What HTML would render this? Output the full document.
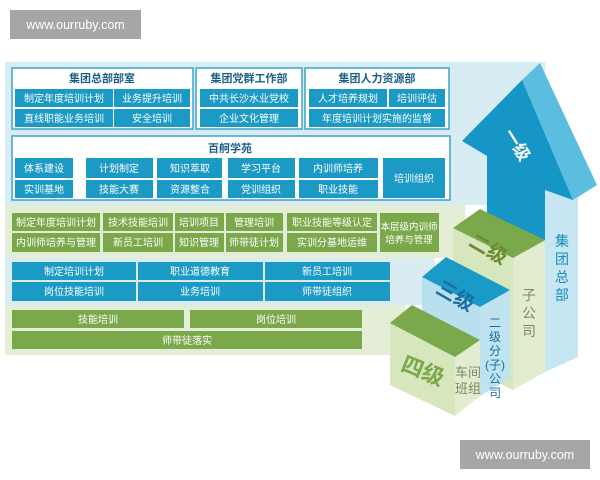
<!DOCTYPE html>
<html><head><meta charset="utf-8"><style>
html,body{margin:0;padding:0;background:#fff;}
svg{display:block;font-family:"Liberation Sans","Noto Sans CJK SC",sans-serif;}
</style></head><body>
<svg width="600" height="480" viewBox="0 0 600 480" xmlns="http://www.w3.org/2000/svg">
<rect width="600" height="480" fill="#fff"/>
<rect x="10" y="10" width="131" height="29" fill="#a6a6a6"/>
<text x="75.5" y="29" font-size="12.5" fill="#fff" text-anchor="middle">www.ourruby.com</text>
<rect x="460" y="440" width="130" height="29" fill="#a6a6a6"/>
<text x="525" y="459" font-size="12.5" fill="#fff" text-anchor="middle">www.ourruby.com</text>

<rect x="5" y="62" width="540" height="143" fill="#d8edf3"/>
<rect x="5" y="205" width="460" height="53" fill="#e4edd5"/>
<rect x="5" y="258" width="430" height="47" fill="#d8ecf2"/>
<rect x="5" y="305" width="400" height="50" fill="#e4edd5"/>

<g font-size="10" fill="#fff" text-anchor="middle">
<rect x="12" y="68" width="181" height="61" fill="#fff" stroke="#3aa3c9" stroke-width="1.5"/>
<text x="102" y="82" font-size="11" font-weight="bold" fill="#1b5f89">集团总部部室</text>
<rect x="15" y="89" width="98" height="18" fill="#1b9ac6"/><text x="64" y="102">制定年度培训计划</text>
<rect x="114" y="89" width="76" height="18" fill="#1b9ac6"/><text x="152" y="102">业务提升培训</text>
<rect x="15" y="109" width="98" height="18" fill="#1b9ac6"/><text x="64" y="122">直线职能业务培训</text>
<rect x="114" y="109" width="76" height="18" fill="#1b9ac6"/><text x="152" y="122">安全培训</text>
<rect x="196" y="68" width="106" height="61" fill="#fff" stroke="#3aa3c9" stroke-width="1.5"/>
<text x="249" y="82" font-size="11" font-weight="bold" fill="#1b5f89">集团党群工作部</text>
<rect x="200" y="89" width="98" height="18" fill="#1b9ac6"/><text x="249" y="102">中共长沙水业党校</text>
<rect x="200" y="109" width="98" height="18" fill="#1b9ac6"/><text x="249" y="122">企业文化管理</text>
<rect x="305" y="68" width="144" height="61" fill="#fff" stroke="#3aa3c9" stroke-width="1.5"/>
<text x="377" y="82" font-size="11" font-weight="bold" fill="#1b5f89">集团人力资源部</text>
<rect x="309" y="89" width="78" height="18" fill="#1b9ac6"/><text x="348" y="102">人才培养规划</text>
<rect x="389" y="89" width="56" height="18" fill="#1b9ac6"/><text x="417" y="102">培训评估</text>
<rect x="309" y="109" width="136" height="18" fill="#1b9ac6"/><text x="377" y="122">年度培训计划实施的监督</text>
<rect x="12" y="136" width="438" height="64" fill="#fff" stroke="#3aa3c9" stroke-width="1.5"/>
<text x="230" y="152" font-size="11" font-weight="bold" fill="#1b5f89">百舸学苑</text>
<rect x="15" y="158" width="58" height="20" fill="#1b9ac6"/><text x="44" y="172">体系建设</text>
<rect x="15" y="180" width="58" height="18" fill="#1b9ac6"/><text x="44" y="193">实训基地</text>
<rect x="86" y="158" width="67" height="20" fill="#1b9ac6"/><text x="119" y="172">计划制定</text>
<rect x="86" y="180" width="67" height="18" fill="#1b9ac6"/><text x="119" y="193">技能大赛</text>
<rect x="157" y="158" width="65" height="20" fill="#1b9ac6"/><text x="190" y="172">知识萃取</text>
<rect x="157" y="180" width="65" height="18" fill="#1b9ac6"/><text x="190" y="193">资源整合</text>
<rect x="228" y="158" width="67" height="20" fill="#1b9ac6"/><text x="261" y="172">学习平台</text>
<rect x="228" y="180" width="67" height="18" fill="#1b9ac6"/><text x="261" y="193">党训组织</text>
<rect x="299" y="158" width="79" height="20" fill="#1b9ac6"/><text x="338" y="172">内训师培养</text>
<rect x="299" y="180" width="79" height="18" fill="#1b9ac6"/><text x="338" y="193">职业技能</text>
<rect x="383" y="158" width="62" height="40" fill="#1b9ac6"/><text x="414" y="182">培训组织</text>

<g fill="#7aa84a">
<rect x="12" y="213" width="88" height="18"/><rect x="103" y="213" width="70" height="18"/><rect x="175" y="213" width="49" height="18"/><rect x="226" y="213" width="57" height="18"/><rect x="287" y="213" width="90" height="18"/>
<rect x="12" y="233" width="88" height="19"/><rect x="103" y="233" width="70" height="19"/><rect x="175" y="233" width="49" height="19"/><rect x="226" y="233" width="57" height="19"/><rect x="287" y="233" width="90" height="19"/>
<rect x="380" y="213" width="59" height="39"/>
</g>
<text x="56" y="226">制定年度培训计划</text><text x="138" y="226">技术技能培训</text><text x="199" y="226">培训项目</text><text x="254" y="226">管理培训</text><text x="332" y="226">职业技能等级认定</text>
<text x="56" y="246">内训师培养与管理</text><text x="138" y="246">新员工培训</text><text x="199" y="246">知识管理</text><text x="254" y="246">师带徒计划</text><text x="332" y="246">实训分基地运维</text>
<text x="409" y="230" font-size="9.5">本层级内训师</text><text x="409" y="243" font-size="9.5">培养与管理</text>

<g fill="#1b9ac6">
<rect x="12" y="262" width="124" height="18"/><rect x="138" y="262" width="125" height="18"/><rect x="265" y="262" width="125" height="18"/>
<rect x="12" y="282" width="124" height="19"/><rect x="138" y="282" width="125" height="19"/><rect x="265" y="282" width="125" height="19"/>
</g>
<text x="74" y="275">制定培训计划</text><text x="200" y="275">职业道德教育</text><text x="327" y="275">新员工培训</text>
<text x="74" y="295">岗位技能培训</text><text x="200" y="295">业务培训</text><text x="327" y="295">师带徒组织</text>

<g fill="#7aa84a">
<rect x="12" y="310" width="172" height="18"/><rect x="190" y="310" width="172" height="18"/>
<rect x="12" y="331" width="350" height="18"/>
</g>
<text x="98" y="323">技能培训</text><text x="276" y="323">岗位培训</text><text x="187" y="344">师带徒落实</text>
</g>

<!-- arrow -->
<polygon points="545,190 578,190 578,357 545,372" fill="#c6e6f1"/>
<polygon points="522,80 540,63 597,185 573,200" fill="#5bbde0"/>
<polygon points="462,141 522,80 573,200 545,190 545,250 487,250 487,156" fill="#1596c6"/>
<text font-size="17" font-weight="bold" fill="#fff" text-anchor="middle" transform="translate(512,148) rotate(58)">一级</text>
<g font-size="14" fill="#1a8ac0" text-anchor="middle">
<text x="562" y="246">集</text><text x="562" y="264">团</text><text x="562" y="282">总</text><text x="562" y="300">部</text>
</g>

<!-- level 2 -->
<polygon points="513,258 545,240 545,372 513,390" fill="#e2eccf"/>
<polygon points="453,228 513,258 513,390 453,360" fill="#d6e7bd"/>
<polygon points="453,228 480,209 545,240 513,258" fill="#7aa84a"/>
<text font-size="20" font-weight="bold" fill="#6b8b30" text-anchor="middle" transform="translate(485,255) rotate(30)">二级</text>
<g font-size="14" fill="#7a8a60" text-anchor="middle">
<text x="529" y="300">子</text><text x="529" y="318">公</text><text x="529" y="336">司</text>
</g>

<!-- level 3 -->
<polygon points="480,307 510,290 510,378 480,396" fill="#bfe3f1"/>
<polygon points="422,277 480,307 480,396 422,366" fill="#b9e0ef"/>
<polygon points="422,277 446,257 510,290 480,307" fill="#1a9ac7"/>
<text font-size="20" font-weight="bold" fill="#1a6ea3" text-anchor="middle" transform="translate(452,302) rotate(30)">三级</text>
<g font-size="12" fill="#1a6ea3" text-anchor="middle">
<text x="495" y="327">二</text><text x="495" y="341">级</text><text x="495" y="355">分</text><text x="495" y="369">(子)</text><text x="495" y="383">公</text><text x="495" y="397">司</text>
</g>

<!-- level 4 -->
<polygon points="455,357 480,340 480,396 455,416" fill="#e2eccf"/>
<polygon points="390,323 455,357 455,416 390,385" fill="#d6e7bd"/>
<polygon points="390,323 412,305 480,340 455,357" fill="#7aa84a"/>
<text font-size="22" font-weight="bold" fill="#7aa84a" text-anchor="middle" transform="translate(420,378) rotate(22)">四级</text>
<g font-size="13" fill="#7a8a60" text-anchor="middle">
<text x="468" y="377">车间</text><text x="468" y="393">班组</text>
</g>
</svg>
</body></html>
